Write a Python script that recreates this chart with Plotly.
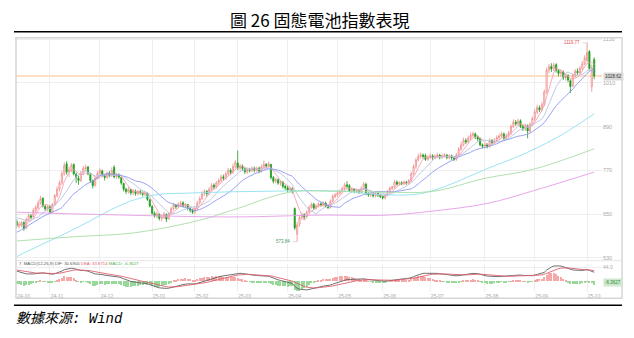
import numpy as np
import pandas as pd
import plotly.graph_objects as go

W, H = 634, 338

# ---------------- data ----------------
holidays = pd.to_datetime([
    "2025-01-01", "2025-01-28", "2025-01-29", "2025-01-30", "2025-01-31",
    "2025-02-03", "2025-02-04", "2025-04-04", "2025-05-01", "2025-05-02",
    "2025-05-05", "2025-06-02", "2025-10-01", "2025-10-02", "2025-10-03",
    "2025-10-06", "2025-10-07", "2025-10-08"])
dates = [d for d in pd.bdate_range("2024-10-14", "2025-10-14") if d not in holidays]

opens = [
    630, 617, 620, 627, 611, 634, 645, 642, 659, 667, 680, 693, 671, 664,
    671, 656, 677, 700, 719, 736, 760, 788, 766, 772, 786, 759, 748, 742, 763, 774, 779, 758, 741, 729, 749,
    762, 768, 757, 751, 762, 757, 778, 752, 757, 750, 734, 718, 711, 717, 708, 713, 706, 712, 708, 704, 707, 689,
    671, 652, 645, 649, 638, 641, 648, 637, 652, 665, 674, 670, 676, 681, 672, 676, 665, 660,
    656, 665, 681, 692, 706, 712, 706, 718, 729, 724, 735, 742, 752, 749, 760, 770, 765, 780,
    790, 776, 782, 774, 766, 772, 770, 776, 770, 776, 768, 780, 786, 782, 786, 750, 740, 744, 735, 738, 726,
    722, 716, 720, 665, 595, 622, 640, 648, 643, 656, 668, 677, 666, 672, 678, 675, 680, 672, 668, 686, 698,
    702, 708, 712, 720, 730, 728, 714, 718, 712, 716, 710, 720, 732, 706, 702, 704, 700, 706, 702,
    698, 694, 702, 712, 720, 724, 738, 732, 736, 733, 738, 735, 742, 760, 780, 798, 808, 812, 810, 800,
    806, 810, 804, 808, 812, 806, 810, 812, 805, 810, 804, 800, 812, 828, 840, 852, 848, 858, 866, 870, 862, 857, 840,
    836, 840, 836, 852, 846, 852, 860, 864, 870, 858, 864, 872, 890, 902, 898, 906, 890, 884, 892, 878, 896,
    912, 930, 942, 936, 950, 985, 1045, 1055, 1048, 1060, 1044, 1036, 1040, 1024, 1030, 1016, 1002, 1030, 1042, 1038, 1050, 1062,
    1072, 1096, 1000, 1074]
closes = [
    618, 622, 626, 610, 635, 646, 641, 660, 668, 680, 692, 672, 664, 670,
    655, 676, 700, 718, 735, 760, 782, 765, 772, 784, 760, 750, 742, 762, 775, 778, 760, 742, 728, 748, 762,
    770, 758, 750, 762, 756, 770, 752, 758, 752, 735, 718, 712, 718, 708, 714, 706, 712, 708, 704, 708, 690, 672,
    652, 645, 650, 638, 642, 650, 636, 652, 665, 675, 670, 676, 680, 672, 676, 666, 660, 655,
    664, 680, 692, 705, 712, 706, 718, 728, 724, 735, 742, 752, 748, 760, 770, 764, 780, 792,
    776, 782, 775, 766, 772, 770, 776, 770, 775, 768, 780, 786, 782, 788, 750, 740, 744, 735, 738, 726, 722,
    716, 720, 712, 612, 620, 640, 648, 642, 655, 668, 676, 666, 672, 678, 675, 680, 672, 668, 685, 698, 702,
    708, 712, 720, 730, 726, 714, 718, 712, 716, 710, 720, 732, 706, 702, 704, 700, 706, 702, 698,
    694, 702, 712, 720, 724, 738, 732, 736, 733, 738, 735, 742, 760, 780, 798, 808, 812, 808, 800, 806,
    810, 804, 808, 812, 806, 810, 812, 805, 810, 804, 800, 812, 828, 840, 852, 848, 858, 866, 870, 862, 856, 840, 836,
    840, 836, 852, 846, 852, 860, 864, 870, 858, 864, 872, 890, 902, 898, 905, 890, 884, 892, 878, 896, 912,
    930, 942, 936, 950, 985, 1045, 1055, 1048, 1058, 1044, 1036, 1040, 1024, 1030, 1018, 1000, 1030, 1042, 1038, 1050, 1062, 1078,
    1092, 1050, 1052, 1028.62]
highs = [
    636, 628, 631, 630, 640, 652, 650, 666, 675, 688, 700, 696, 676, 675,
    674, 680, 705, 726, 742, 768, 792, 795, 780, 790, 789, 764, 755, 768, 782, 786, 782, 762, 745, 752, 768,
    776, 772, 760, 766, 768, 778, 784, 763, 762, 752, 736, 722, 724, 720, 718, 717, 716, 716, 712, 714, 709, 692,
    674, 657, 656, 652, 648, 656, 652, 656, 670, 681, 678, 682, 686, 685, 680, 678, 668, 664,
    670, 686, 698, 712, 718, 716, 724, 735, 734, 740, 748, 758, 758, 766, 776, 775, 788, 798,
    824, 788, 786, 778, 778, 777, 781, 780, 780, 780, 786, 797, 790, 794, 788, 754, 750, 748, 742, 740, 730,
    728, 724, 723, 668, 628, 646, 654, 652, 660, 674, 682, 680, 677, 683, 682, 685, 684, 676, 690, 704, 708,
    714, 718, 726, 736, 740, 732, 722, 721, 720, 719, 726, 738, 736, 710, 708, 708, 710, 709, 706,
    702, 706, 716, 726, 728, 744, 742, 740, 740, 742, 741, 746, 766, 786, 804, 816, 818, 816, 816, 811,
    816, 814, 813, 818, 815, 815, 817, 815, 814, 813, 808, 818, 834, 848, 860, 858, 865, 874, 876, 874, 866, 860, 844,
    845, 844, 858, 856, 858, 866, 870, 876, 874, 870, 878, 896, 910, 908, 912, 910, 895, 898, 896, 902, 918,
    938, 950, 948, 958, 992, 1052, 1062, 1064, 1065, 1064, 1048, 1046, 1044, 1036, 1034, 1020, 1036, 1048, 1050, 1056, 1070, 1086,
    1119.77, 1100, 1060, 1080]
lows = [
    612, 610, 614, 604, 608, 630, 636, 639, 654, 662, 676, 668, 658, 657,
    650, 652, 672, 695, 712, 730, 755, 758, 752, 765, 756, 735, 730, 738, 758, 768, 756, 735, 720, 725, 744,
    756, 752, 742, 746, 750, 752, 748, 747, 746, 730, 712, 705, 706, 702, 702, 700, 701, 703, 698, 700, 686, 668,
    648, 640, 638, 632, 630, 636, 628, 634, 648, 660, 664, 666, 670, 668, 666, 660, 654, 650,
    650, 660, 676, 688, 700, 698, 702, 712, 718, 720, 730, 738, 742, 744, 755, 758, 760, 775,
    770, 770, 768, 760, 760, 764, 765, 764, 766, 762, 764, 776, 776, 778, 745, 734, 734, 730, 728, 720, 716,
    710, 712, 706, 606, 573.84, 615, 634, 636, 638, 652, 664, 662, 662, 668, 670, 670, 668, 663, 665, 682, 694,
    698, 703, 706, 714, 720, 710, 709, 707, 707, 705, 706, 716, 702, 697, 697, 695, 696, 697, 693,
    690, 690, 698, 708, 716, 720, 728, 728, 729, 729, 730, 731, 738, 756, 774, 794, 802, 802, 796, 796,
    801, 799, 800, 803, 800, 801, 805, 800, 800, 799, 795, 796, 808, 824, 836, 842, 844, 852, 860, 856, 850, 836, 830,
    830, 830, 832, 840, 842, 848, 855, 860, 854, 854, 860, 868, 886, 892, 894, 886, 878, 878, 858, 874, 892,
    906, 924, 930, 932, 946, 980, 1036, 1040, 1042, 1038, 1028, 1026, 1018, 1016, 1012, 982, 998, 1024, 1032, 1034, 1046, 1058,
    1068, 1044, 985, 1020]

ma10_head = [640, 638, 636, 633, 632, 632, 633, 636, 640]
ma20_head = [600, 603, 607, 611, 615, 619, 623, 627, 631, 635, 639, 643, 646, 649, 652, 655, 658, 661, 664]
# long moving averages (day index, value)
ma60_idx = [0, 10, 20, 30, 40, 50, 60, 70, 80, 90, 100, 110, 120, 130, 140, 150, 160, 170, 180, 190, 200, 210, 220, 230, 243]
ma60_val = [533, 565, 595, 628, 663, 690, 704, 707, 709, 711, 712, 713, 714, 714, 712, 704, 702, 706, 725, 752, 780, 805, 835, 870, 925]
ma120_idx = [0, 25, 49, 77, 91, 115, 135, 155, 175, 197, 217, 243]
ma120_val = [576, 588, 598, 633, 661, 710, 712, 710, 712, 748, 772, 829]
ma250_idx = [0, 39, 91, 128, 156, 175, 198, 218, 243]
ma250_val = [655, 648, 642, 647, 647, 658, 679, 715, 765]

# MACD(12,26,9) state at the start of the window
macd_seed = [628.0, 592.0, 37.0]   # EMA12, EMA26, DEA

y_ticks = [530, 650, 770, 890, 1010, 1130]
last_price = 1028.62
max_label, min_label = "1119.77", "573.84"
macd_last = -6.3627
macd_text = ("7. MACD(12,26,9) DIF: 30.6900 "
             "<span style='color:#e0606e'>DEA: 33.8714</span> "
             "<span style='color:#4caf50'>MACD: -6.3627</span>")

# ---------------- derived ----------------
n = len(dates)
assert len(opens) == n and len(closes) == n and len(highs) == n and len(lows) == n
idx = np.arange(n)
cs = pd.Series(closes, dtype=float)
ma5 = cs.rolling(5, min_periods=1).mean().values
ma10 = cs.rolling(10, min_periods=1).mean().values
ma10[:len(ma10_head)] = ma10_head
ma20 = cs.rolling(20, min_periods=1).mean().values
ma20[:len(ma20_head)] = ma20_head

e12, e26, dea = macd_seed
dif_l, dea_l = [], []
for c in closes:
    e12 += (c - e12) * 2 / 13
    e26 += (c - e26) * 2 / 27
    d = e12 - e26
    dea += (d - dea) * 2 / 10
    dif_l.append(d)
    dea_l.append(dea)
dif_a = np.array(dif_l)
dea_a = np.array(dea_l)
macd_bar = 2 * (dif_a - dea_a)

tick_idx, tick_txt = [], []
prev = None
for i, d in enumerate(dates):
    key = (d.year, d.month)
    if key != prev:
        tick_idx.append(i)
        tick_txt.append(d.strftime("%y-%m"))
        prev = key

# ---------------- geometry ----------------
def px(x):
    return x / W

def py(y):
    return 1 - y / H

X_L, X_R = 16, 602
x_range = [-0.3, 246.3]
P_TOP, P_BOT = 36, 260
M_TOP, M_BOT = 264, 293

fig = go.Figure()

fig.add_trace(go.Candlestick(
    x=idx, open=opens, high=highs, low=lows, close=closes,
    increasing=dict(line=dict(color="#f08c8c", width=0.8), fillcolor="rgba(255,255,255,1)"),
    decreasing=dict(line=dict(color="#1f9d1f", width=0.8), fillcolor="#1f9d1f"),
    whiskerwidth=0, showlegend=False, hoverinfo="skip", xaxis="x", yaxis="y"))

for xs, ys, col, shp in [
        (idx, ma5, "#f5a3b5", "linear"),
        (idx, ma10, "#b9c3e3", "linear"),
        (idx, ma20, "#8c96f0", "spline"),
        (ma60_idx, ma60_val, "#8fe0ee", "spline"),
        (ma120_idx, ma120_val, "#a6dca6", "spline"),
        (ma250_idx, ma250_val, "#e69ce9", "spline")]:
    fig.add_trace(go.Scatter(x=xs, y=ys, mode="lines",
                             line=dict(color=col, width=0.9, shape=shp),
                             showlegend=False, hoverinfo="skip", xaxis="x", yaxis="y"))

fig.add_trace(go.Bar(x=idx, y=macd_bar, width=0.45,
                     marker=dict(color=["#f4a8a8" if v >= 0 else "#98d898" for v in macd_bar], line=dict(width=0)),
                     showlegend=False, hoverinfo="skip", xaxis="x2", yaxis="y2"))
fig.add_trace(go.Scatter(x=idx, y=dif_a, mode="lines", line=dict(color="#606060", width=0.9),
                         showlegend=False, hoverinfo="skip", xaxis="x2", yaxis="y2"))
fig.add_trace(go.Scatter(x=idx, y=dea_a, mode="lines", line=dict(color="#e0606e", width=0.9),
                         showlegend=False, hoverinfo="skip", xaxis="x2", yaxis="y2"))

grid = "#eeeeee"
fig.update_layout(
    width=W, height=H, margin=dict(l=0, r=0, t=0, b=0),
    paper_bgcolor="white", plot_bgcolor="white", bargap=0,
    font=dict(family="Liberation Sans, Arial, sans-serif", color="#999999"),
    xaxis=dict(domain=[px(X_L), px(X_R)], range=x_range, rangeslider=dict(visible=False),
               tickvals=tick_idx, showticklabels=False, showgrid=True, gridcolor=grid, gridwidth=1,
               zeroline=False, showline=False, ticks="", anchor="y"),
    yaxis=dict(domain=[py(P_BOT), py(P_TOP)], range=[524.6, 1134.1], side="right",
               tickvals=y_ticks, ticktext=[str(v) for v in y_ticks],
               tickfont=dict(size=5.5, color="#a8a8a8"), showgrid=True, gridcolor=grid,
               zeroline=False, showline=False, ticks="", anchor="x"),
    xaxis2=dict(domain=[px(X_L), px(X_R)], range=x_range, matches="x",
                tickvals=tick_idx, ticktext=tick_txt, ticklabelshift=7,
                tickfont=dict(size=5, color="#a8a8a8"), showgrid=True, gridcolor=grid,
                zeroline=False, showline=False, ticks="", anchor="y2"),
    yaxis2=dict(domain=[py(M_BOT), py(M_TOP)], range=[-37.5, 57.0], side="right",
                tickvals=[44], ticktext=["44.0"], tickfont=dict(size=5, color="#a8a8a8"),
                showgrid=True, gridcolor=grid, zeroline=False, showline=False, ticks="", anchor="x2"),
)

shapes = [
    dict(type="line", xref="paper", yref="y", x0=px(X_L), x1=px(X_R), y0=last_price, y1=last_price,
         line=dict(color="#fde0c4", width=2), layer="below"),
    dict(type="line", xref="x", yref="y", x0=237.9, x1=240, y0=1119.77, y1=1119.77,
         line=dict(color="#c8c8c8", width=0.6)),
    dict(type="line", xref="x", yref="y", x0=116, x1=118, y0=573.84, y1=573.84,
         line=dict(color="#c8c8c8", width=0.6)),
    dict(type="line", xref="paper", yref="paper", x0=px(X_L), x1=px(622), y0=py(261), y1=py(261),
         line=dict(color="#e6e6e6", width=1)),
    dict(type="rect", xref="paper", yref="paper", x0=px(16), x1=px(622), y0=py(299), y1=py(36),
         line=dict(color="#d6d6d6", width=1.5)),
    dict(type="line", xref="paper", yref="paper", x0=px(14), x1=px(622), y0=py(30), y1=py(30),
         line=dict(color="black", width=1.5)),
    dict(type="line", xref="paper", yref="paper", x0=px(14), x1=px(622), y0=py(306), y1=py(306),
         line=dict(color="black", width=1.5)),
]
fig.update_layout(shapes=shapes)

ann = [
    dict(text="圖 26 固態電池指數表現", xref="paper", yref="paper", x=px(320), y=py(18),
         xanchor="center", yanchor="middle", showarrow=False,
         font=dict(family="Noto Sans CJK TC", size=17, color="black")),
    dict(text="數據來源: Wind", xref="paper", yref="paper", x=px(14), y=py(320),
         xanchor="left", yanchor="middle", showarrow=False,
         font=dict(family="Liberation Mono, Noto Sans CJK TC", size=14, color="black", style="italic")),
    dict(text=max_label, xref="x", yref="y", x=237.9, y=1119.77, xanchor="right", yanchor="middle",
         showarrow=False, font=dict(size=4.5, color="#e05050")),
    dict(text=min_label, xref="x", yref="y", x=116, y=573.84, xanchor="right", yanchor="middle",
         showarrow=False, font=dict(size=4.5, color="#3f9a5f")),
    dict(text=f"{last_price:.2f}", xref="paper", yref="y", x=px(603), y=last_price, xanchor="left",
         yanchor="middle", showarrow=False, bgcolor="#d9d9d9", borderpad=1,
         font=dict(size=4.5, color="#333333")),
    dict(text=f"{macd_last:.4f}", xref="paper", yref="y2", x=px(603), y=macd_last,
         xanchor="left", yanchor="middle", showarrow=False, bgcolor="#cfe8cf", borderpad=1,
         font=dict(size=4.5, color="#2e8b2e")),
    dict(text=macd_text, xref="paper", yref="paper", x=px(17), y=py(263.5), xanchor="left",
         yanchor="middle", showarrow=False, font=dict(size=4.3, color="#555555")),
]
fig.update_layout(annotations=ann)

fig.write_html("out.html")
